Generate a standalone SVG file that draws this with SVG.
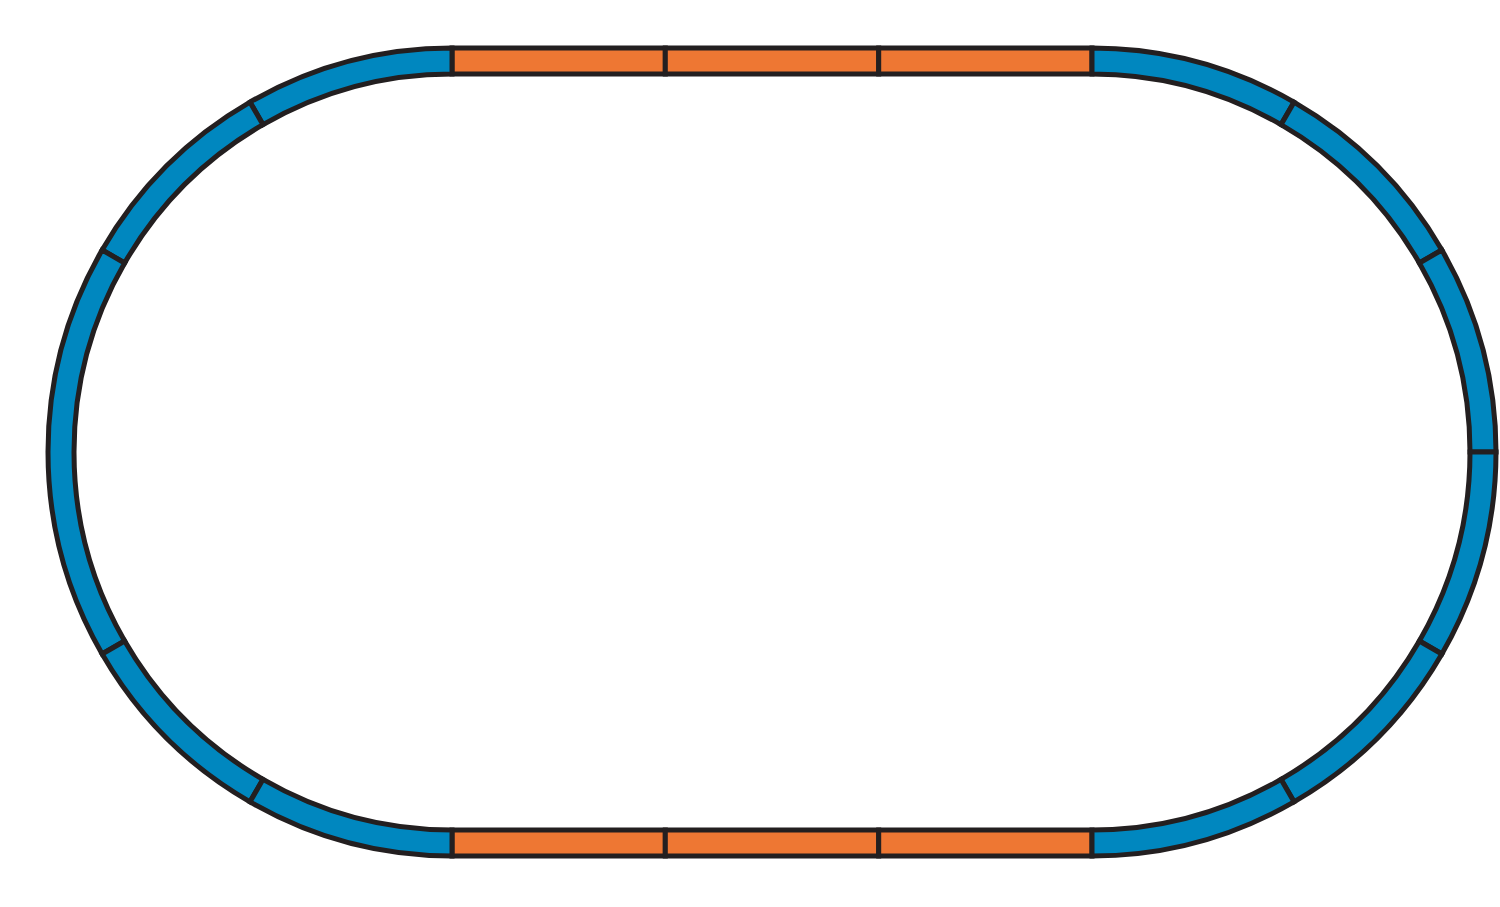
<svg xmlns="http://www.w3.org/2000/svg" width="1500" height="907" viewBox="0 0 1500 907">
<style>
.curve{fill:#0087BF;stroke:#231F20;stroke-width:5;stroke-linejoin:miter}
.straight{fill:#EE7733;stroke:#231F20;stroke-width:5;stroke-linejoin:miter}
</style>
<rect width="1500" height="907" fill="#FFFFFF"/>
<g id="top-straights">
<rect class="straight" x="452" y="48" width="213.3" height="26"/>
<rect class="straight" x="665.3" y="48" width="213.4" height="26"/>
<rect class="straight" x="878.7" y="48" width="213.3" height="26"/>
</g>
<g id="bottom-straights">
<rect class="straight" x="452" y="830" width="213.3" height="26"/>
<rect class="straight" x="665.3" y="830" width="213.4" height="26"/>
<rect class="straight" x="878.7" y="830" width="213.3" height="26"/>
</g>
<g id="left-curves">
<path class="curve" d="M452,48 A404,404 0 0 0 250,102.13 L263,124.64 A378,378 0 0 1 452,74 Z"/>
<path class="curve" d="M250,102.13 A404,404 0 0 0 102.13,250 L124.64,263 A378,378 0 0 1 263,124.64 Z"/>
<path class="curve" d="M102.13,250 A404,404 0 0 0 102.13,654 L124.64,641 A378,378 0 0 1 124.64,263 Z"/>
<path class="curve" d="M102.13,654 A404,404 0 0 0 250,801.87 L263,779.36 A378,378 0 0 1 124.64,641 Z"/>
<path class="curve" d="M250,801.87 A404,404 0 0 0 452,856 L452,830 A378,378 0 0 1 263,779.36 Z"/>
</g>
<g id="right-curves">
<path class="curve" d="M1092,48 A404,404 0 0 1 1294,102.13 L1281,124.64 A378,378 0 0 0 1092,74 Z"/>
<path class="curve" d="M1294,102.13 A404,404 0 0 1 1441.87,250 L1419.36,263 A378,378 0 0 0 1281,124.64 Z"/>
<path class="curve" d="M1441.87,250 A404,404 0 0 1 1496,452 L1470,452 A378,378 0 0 0 1419.36,263 Z"/>
<path class="curve" d="M1496,452 A404,404 0 0 1 1441.87,654 L1419.36,641 A378,378 0 0 0 1470,452 Z"/>
<path class="curve" d="M1441.87,654 A404,404 0 0 1 1294,801.87 L1281,779.36 A378,378 0 0 0 1419.36,641 Z"/>
<path class="curve" d="M1294,801.87 A404,404 0 0 1 1092,856 L1092,830 A378,378 0 0 0 1281,779.36 Z"/>
</g>
</svg>
